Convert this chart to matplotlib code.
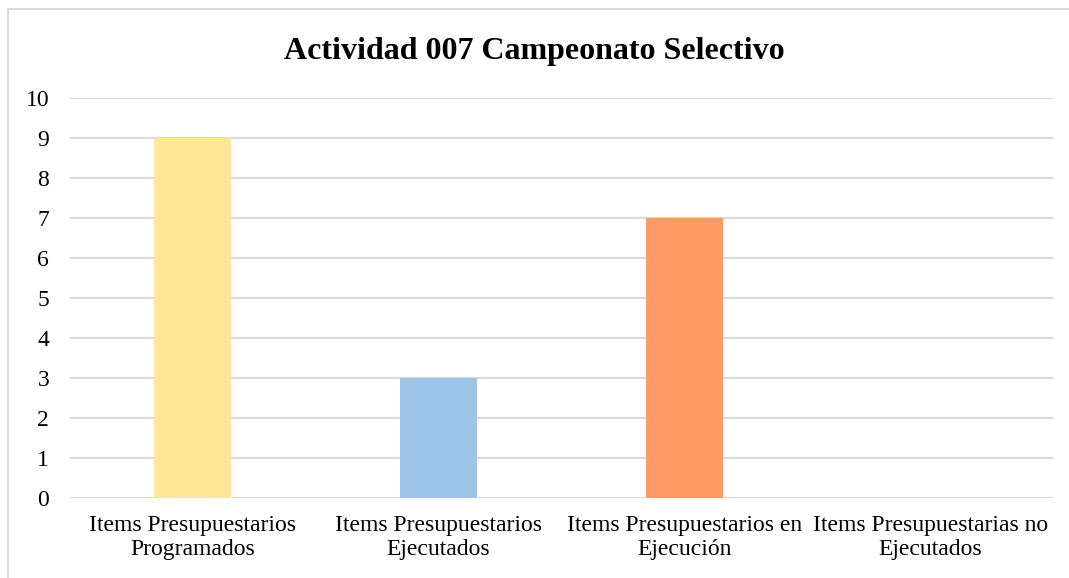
import matplotlib
matplotlib.use("Agg")
import matplotlib.pyplot as plt
from matplotlib.patches import Rectangle

categories = ["Items Presupuestarios\nProgramados", "Items Presupuestarios\nEjecutados",
              "Items Presupuestarios en\nEjecución", "Items Presupuestarias no\nEjecutados"]
values = [9, 3, 7, 0]
colors = ["#FFE699", "#9DC3E6", "#FF9966", "#A9D18E"]
yticks = list(range(0, 11))

plt.rcParams['font.family'] = ['Liberation Serif', 'DejaVu Serif']

fig = plt.figure(figsize=(10.69, 5.78), dpi=100)
fig.patches.append(Rectangle((8/1069, -0.1), 1.2, 1 - 9/578 + 0.1, transform=fig.transFigure,
                             fill=False, edgecolor="#D9D9D9", linewidth=1.5))
ax = fig.add_axes([70/1069, 1 - 498/578, 983/1069, 400/578])
x = range(len(categories))
ax.bar(x, values, width=0.313, color=colors, zorder=2)
ax.set_xlim(-0.5, 3.5)
ax.set_ylim(0, 10)
ax.set_yticks(yticks)
ax.set_yticklabels([str(t) for t in yticks], fontsize=17)
ax.set_xticks(list(x))
ax.set_xticklabels(categories, fontsize=17, linespacing=1.2)
ax.tick_params(axis='both', length=0, colors="#000000")
ax.tick_params(axis='y', pad=15)
ax.tick_params(axis='x', pad=12)
ax.grid(axis='y', color="#D9D9D9", linewidth=1.5, zorder=0)
for s in ax.spines.values():
    s.set_visible(False)
fig.text(0.5, 1 - 52/578, "Actividad 007 Campeonato Selectivo", ha='center', va='center',
         fontsize=23, fontweight='bold')
fig.savefig("out.png", dpi=100)
